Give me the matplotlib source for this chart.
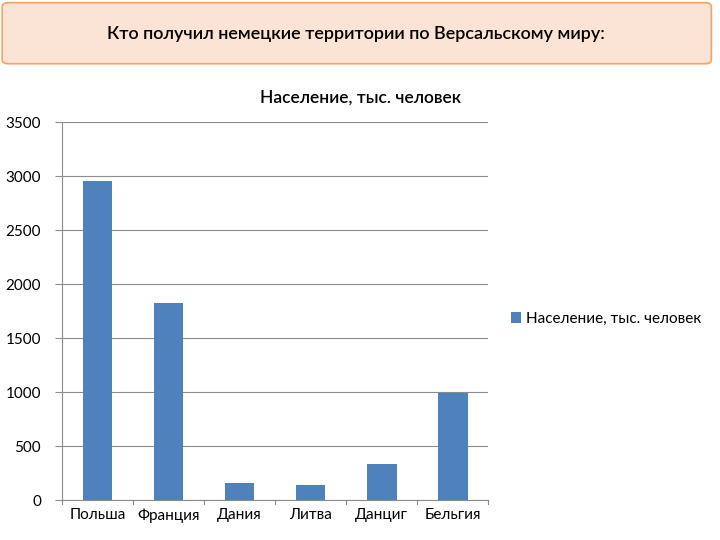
import matplotlib
matplotlib.use("Agg")
import matplotlib.pyplot as plt
from matplotlib.patches import FancyBboxPatch

plt.rcParams['font.family'] = ['Lato', 'DejaVu Sans']

categories = ["Польша", "Франция", "Дания", "Литва", "Данциг", "Бельгия"]
values = [2950, 1820, 160, 140, 330, 990]
series_name = "Население, тыс. человек"
title = "Кто получил немецкие территории по Версальскому миру:"

fig = plt.figure(figsize=(7.2, 5.4), dpi=100)
fig.patch.set_facecolor("white")

box = FancyBboxPatch((0.003, 0.882), 0.985, 0.113, boxstyle="round,pad=0,rounding_size=0.008",
                     transform=fig.transFigure, facecolor="#fbe4d5", edgecolor="#f4a460", lw=1.2)
fig.patches.append(box)
fig.text(0.495, 0.937, title, ha="center", va="center", fontsize=13, fontweight="semibold", color="black")

ax = fig.add_axes([0.086, 0.074, 0.592, 0.70])
x = range(len(categories))
ax.bar(x, values, width=0.42, color="#4F81BD", label=series_name, zorder=3)
ax.set_ylim(0, 3500)
ax.set_xlim(-0.5, len(categories) - 0.5)
ax.set_yticks(range(0, 3501, 500))
ax.set_xticks(list(x))
ax.set_xticklabels(categories, fontsize=11)
ax.tick_params(axis='y', labelsize=11, length=5, color="#8c8c8c", width=0.8, pad=10)
ax.tick_params(axis='x', length=0, pad=6)
ax.grid(axis='y', color="#8c8c8c", lw=0.8, zorder=0)
for s in ["top", "right"]:
    ax.spines[s].set_visible(False)
ax.spines["bottom"].set_color("#8c8c8c")
ax.spines["left"].set_color("#8c8c8c")
for i in range(len(categories) + 1):
    ax.plot([i - 0.5, i - 0.5], [0, -40], color="#8c8c8c", lw=0.8, clip_on=False)
ax.set_title(series_name, fontsize=12.5, fontweight="semibold", pad=14, x=0.7)

fig.legend(loc="center left", bbox_to_anchor=(0.69, 0.41), frameon=False, fontsize=11,
           handlelength=0.7, handleheight=0.7, handletextpad=0.3)

fig.savefig("out.png", dpi=100)
